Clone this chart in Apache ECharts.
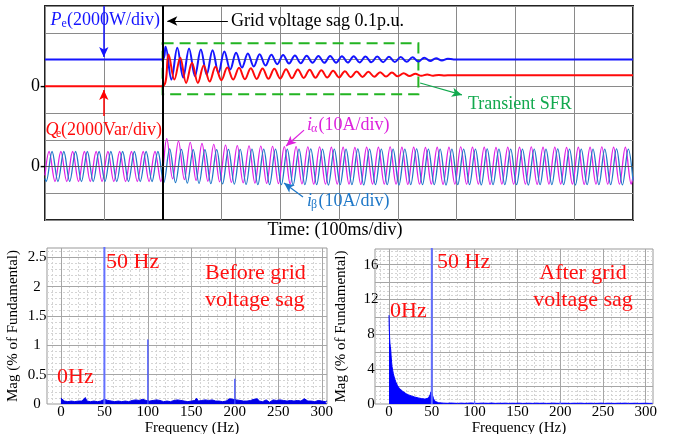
<!DOCTYPE html>
<html>
<head>
<meta charset="utf-8">
<script src="https://cdn.jsdelivr.net/npm/echarts@6.0.0/dist/echarts.min.js"></script>
<style>
  html, body { margin: 0; padding: 0; background: #fff; }
  #chart { width: 679px; height: 434px; }
</style>
</head>
<body>
<div id="chart"></div>
<script>
// ---------- scope traces (extremes read every half cycle, 50 Hz) ----------
const HALF_CYCLE = 10;   // ms between a peak and the next trough
const SAG_TIME = 200;    // ms, grid voltage sag instant

const PE_BEFORE = 2000;  // W
const PE_AFTER = 2000;
const PE_OSC_START = 205;
const PE_OSC = [
  2950, 500, 2880, 650, 2830, 750, 2750, 880, 2700, 1000,
  2600, 1250, 2500, 1400, 2450, 1480, 2400, 1550, 2350, 1650,
  2330, 1700, 2300, 1720, 2280, 1750, 2270, 1750, 2260, 1760,
  2250, 1770, 2240, 1780, 2230, 1790, 2220, 1800, 2200, 1810,
  2190, 1830, 2170, 1850, 2140, 1880, 2100, 1920, 2060
];

const QE_BEFORE = 0;     // Var
const QE_AFTER = 820;
const QE_OSC_START = 210;
const QE_OSC = [
  2380, 500, 2130, 250, 1750, 250, 1550, 350, 1450, 450,
  1400, 500, 1380, 520, 1350, 550, 1330, 560, 1300, 580,
  1280, 600, 1250, 620, 1230, 640, 1200, 650, 1150, 660,
  1120, 680, 1100, 700, 1080, 710, 1050, 720, 1020, 740,
  980, 760, 930, 780, 880, 790, 850, 810
];

// i_alpha extremes at t = 7, 17, ... 997 ms (A)
const IA_START = 7;
const IA_EDGE = [-3.3, -3.9];   // values at t = 0 and t = 1000
const IA_PEAKS = [
  5.6, -5.6, 5.6, -5.6, 5.6, -5.6, 5.6, -5.6, 5.6, -5.6,
  5.6, -5.6, 5.6, -5.6, 5.6, -5.6, 5.6, -5.6, 5.6, -5.6,
  10.4, -4.6, 9.5, -4.9, 9.0, -5.2, 8.6, -5.5, 8.3, -5.7,
  8.0, -5.9, 7.8, -6.1, 7.7, -6.2, 7.6, -6.3, 7.5, -6.4,
  7.4, -6.5, 7.4, -6.5, 7.3, -6.6, 7.3, -6.6, 7.2, -6.6,
  7.2, -6.6, 7.1, -6.7, 7.2, -6.6, 7.2, -6.6, 7.3, -6.6,
  7.2, -6.7, 7.2, -6.6, 7.1, -6.6, 7.2, -6.7, 7.2, -6.6,
  7.3, -6.6, 7.2, -6.6, 7.2, -6.7, 7.1, -6.6, 7.2, -6.6,
  7.2, -6.6, 7.3, -6.7, 7.2, -6.6, 7.2, -6.6, 7.1, -6.6,
  7.2, -6.7, 7.2, -6.6, 7.3, -6.6, 7.2, -6.6, 7.2, -6.6
];

// i_beta extremes at t = 2, 12, ... 992 ms (A)
const IB_START = 2;
const IB_EDGE = [-4.5, -5.3];
const IB_PEAKS = [
  -5.6, 5.6, -5.6, 5.6, -5.6, 5.6, -5.6, 5.6, -5.6, 5.6,
  -5.6, 5.6, -5.6, 5.6, -5.6, 5.6, -5.6, 5.6, -5.6, 5.6,
  -6.0, 6.6, -6.0, 6.4, -6.2, 6.3, -6.3, 6.3, -6.4, 6.3,
  -6.5, 6.4, -6.6, 6.4, -6.7, 6.5, -6.8, 6.5, -6.8, 6.5,
  -6.8, 6.5, -6.9, 6.5, -6.8, 6.6, -6.8, 6.5, -6.9, 6.5,
  -6.8, 6.5, -6.8, 6.6, -6.9, 6.5, -6.8, 6.5, -6.8, 6.5,
  -6.9, 6.5, -6.8, 6.6, -6.8, 6.5, -6.8, 6.5, -6.9, 6.5,
  -6.8, 6.5, -6.8, 6.5, -6.9, 6.6, -6.8, 6.5, -6.8, 6.5,
  -6.8, 6.5, -6.9, 6.5, -6.8, 6.5, -6.8, 6.6, -6.8, 6.5,
  -6.9, 6.5, -6.8, 6.5, -6.8, 6.5, -6.8, 6.6, -6.9, 6.5
];

// ---------- FFT, before sag ----------
const FREQ_TICKS = [0, 50, 100, 150, 200, 250, 300];
const BEFORE_NOISE_STEP = 2;   // Hz, starting at 0
const BEFORE_NOISE = [
  0.10, 0.07, 0.05, 0.08, 0.04, 0.06, 0.05, 0.07, 0.04, 0.06,
  0.05, 0.08, 0.05, 0.06, 0.11, 0.05, 0.07, 0.04, 0.06, 0.05,
  0.07, 0.04, 0.06, 0.05, 0.07, 0.08, 0.05, 0.06, 0.04, 0.05,
  0.07, 0.04, 0.06, 0.05, 0.08, 0.04, 0.06, 0.05, 0.07, 0.04,
  0.05, 0.06, 0.04, 0.07, 0.05, 0.06, 0.04, 0.08, 0.05, 0.06,
  0.07, 0.05, 0.04, 0.06, 0.05, 0.07, 0.04, 0.06, 0.05, 0.04,
  0.07, 0.05, 0.06, 0.04, 0.05, 0.06, 0.04, 0.07, 0.05, 0.06,
  0.04, 0.05, 0.07, 0.04, 0.06, 0.05, 0.04, 0.06, 0.10, 0.05,
  0.04, 0.06, 0.05, 0.07, 0.04, 0.06, 0.05, 0.07, 0.04, 0.05,
  0.08, 0.05, 0.06, 0.04, 0.07, 0.05, 0.06, 0.09, 0.11, 0.08,
  0.10, 0.07, 0.05, 0.06, 0.04, 0.05, 0.07, 0.05, 0.04, 0.06,
  0.05, 0.08, 0.05, 0.09, 0.05, 0.06, 0.04, 0.05, 0.07, 0.04,
  0.03, 0.05, 0.07, 0.04, 0.06, 0.05, 0.07, 0.04, 0.06, 0.08,
  0.05, 0.07, 0.06, 0.08, 0.05, 0.07, 0.06, 0.08, 0.05, 0.07,
  0.09, 0.06, 0.05, 0.07, 0.05, 0.06, 0.04, 0.05, 0.06, 0.04,
  0.05, 0.06, 0.04, 0.05
];
const BEFORE_SPIKE_FREQ = [50, 100, 200];
const BEFORE_SPIKE_MAG = [100, 1.1, 0.43];

// ---------- FFT, after sag ----------
const AFTER_FREQ = [
  0, 0.3, 0.7, 1, 1.5, 2, 2.5, 3, 3.5, 4,
  5, 6, 7, 8, 10, 12, 14, 16, 18, 20,
  23, 26, 30, 34, 38, 42, 44, 46, 47, 48,
  49, 49.6, 50.4, 51, 52, 53, 54, 56, 58
];
const AFTER_MAG = [
  10.2, 8.6, 7.6, 7.0, 6.6, 6.2, 5.4, 4.8, 4.3, 4.0,
  3.5, 3.1, 2.8, 2.5, 2.1, 1.8, 1.6, 1.45, 1.3, 1.18,
  1.04, 0.93, 0.8, 0.7, 0.62, 0.56, 0.57, 0.68, 0.82, 1.05,
  1.4, 1.6, 1.3, 0.95, 0.6, 0.42, 0.3, 0.2, 0.14
];
const AFTER_NOISE_START = 60;
const AFTER_NOISE_STEP = 4;
const AFTER_NOISE = [
  0.12, 0.10, 0.08, 0.11, 0.09, 0.07, 0.10, 0.08, 0.09, 0.12,
  0.08, 0.07, 0.10, 0.09, 0.08, 0.11, 0.07, 0.09, 0.08, 0.10,
  0.07, 0.09, 0.08, 0.10, 0.07, 0.08, 0.09, 0.07, 0.10, 0.08,
  0.09, 0.07, 0.08, 0.10, 0.08, 0.07, 0.09, 0.08, 0.07, 0.09,
  0.08, 0.10, 0.07, 0.08, 0.09, 0.07, 0.08, 0.10, 0.07, 0.09,
  0.08, 0.07, 0.09, 0.08, 0.10, 0.07, 0.08, 0.09, 0.07, 0.08,
  0.09, 0.07, 0.08
];
const AFTER_SPIKE_FREQ = [50, 100, 200];
const AFTER_SPIKE_MAG = [100, 0.35, 0.3];

// ---------- build series data ----------
function wave(t0, vals) {
  return vals.map((v, i) => [t0 + i * HALF_CYCLE, v]);
}
const peData = [[0, PE_BEFORE], [SAG_TIME, PE_BEFORE]]
  .concat(wave(PE_OSC_START, PE_OSC))
  .concat([[PE_OSC_START + PE_OSC.length * HALF_CYCLE, PE_AFTER], [1000, PE_AFTER]]);
const qeData = [[0, QE_BEFORE], [SAG_TIME, QE_BEFORE]]
  .concat(wave(QE_OSC_START, QE_OSC))
  .concat([[QE_OSC_START + QE_OSC.length * HALF_CYCLE, QE_AFTER], [1000, QE_AFTER]]);
const iaData = [[0, IA_EDGE[0]]].concat(wave(IA_START, IA_PEAKS)).concat([[1000, IA_EDGE[1]]]);
const ibData = [[0, IB_EDGE[0]]].concat(wave(IB_START, IB_PEAKS)).concat([[1000, IB_EDGE[1]]]);

const beforeData = BEFORE_NOISE.map((v, i) => [i * BEFORE_NOISE_STEP, v]);
const afterData = AFTER_FREQ.map((f, i) => [f, AFTER_MAG[i]])
  .concat(AFTER_NOISE.map((v, i) => [AFTER_NOISE_START + i * AFTER_NOISE_STEP, v]));

function spikes(freqs, mags) {
  const out = [];
  freqs.forEach((f, i) => { out.push([f, 0], [f, mags[i]], [f, '-']); });
  return out;
}

const SERIF = 'Liberation Serif';

// grid lines of the FFT plots
function fftGrid(xMajor, xMinor, yMajor, yMinor) {
  const d = [];
  xMinor.forEach(v => d.push({ xAxis: v, lineStyle: { color: '#d4d4d4', type: [2, 2], width: 1 } }));
  yMinor.forEach(v => d.push({ yAxis: v, lineStyle: { color: '#d4d4d4', type: [2, 2], width: 1 } }));
  xMajor.forEach(v => d.push({ xAxis: v, lineStyle: { color: '#a6a6a6', type: 'solid', width: 1 } }));
  yMajor.forEach(v => d.push({ yAxis: v, lineStyle: { color: '#a6a6a6', type: 'solid', width: 1 } }));
  return { silent: true, symbol: 'none', z: 1, label: { show: false }, animation: false, data: d };
}
const xMinorLines = [];
for (let f = -10; f <= 300; f += 10) if (f % 50 !== 0) xMinorLines.push(f);
const yMinorLeft = [], yMajorLeft = [];
for (let k = 1; k <= 26; k++) (k % 5 === 0 ? yMajorLeft : yMinorLeft).push(+(k * 0.1).toFixed(1));
const yMinorRight = [], yMajorRight = [];
for (let k = 1; k <= 35; k++) (k % 4 === 0 ? yMajorRight : yMinorRight).push(k * 0.5);

function txt(text, x, y, size, color, extra) {
  return {
    type: 'text', x: x, y: y, z: 100, silent: true,
    style: Object.assign({
      text: text, fontSize: size, fontFamily: SERIF, fill: color,
      align: 'left', verticalAlign: 'middle'
    }, extra || {})
  };
}

const chart = echarts.init(document.getElementById('chart'), null, { renderer: 'canvas' });

const arrowEnd = { symbol: 'arrow', symbolSize: [7, 10] };

chart.setOption({
  animation: false,
  textStyle: { fontFamily: SERIF },
  grid: [
    { left: 45, top: 6, width: 588, height: 214, show: true, borderColor: '#222', borderWidth: 2, outerBoundsMode: 'none' },
    { left: 47, top: 248, width: 280, height: 156, show: true, borderColor: '#999', borderWidth: 1, outerBoundsMode: 'none' },
    { left: 375, top: 249, width: 278, height: 155, show: true, borderColor: '#999', borderWidth: 1, outerBoundsMode: 'none' }
  ],
  xAxis: [
    {
      gridIndex: 0, type: 'value', min: 0, max: 1000, interval: 100,
      axisLine: { show: false }, axisTick: { show: false }, axisLabel: { show: false },
      splitLine: { lineStyle: { color: '#8a8a8a', width: 1 } }
    },
    {
      gridIndex: 1, type: 'value', min: -16, max: 306,
      axisLine: { show: false }, axisTick: { show: false, customValues: FREQ_TICKS }, splitLine: { show: false },
      axisLabel: { customValues: FREQ_TICKS, fontSize: 15, color: '#000', margin: 1, fontFamily: SERIF },
      name: 'Frequency (Hz)', nameLocation: 'middle', nameGap: 9,
      nameTextStyle: { fontSize: 15, color: '#000', fontFamily: SERIF, padding: [0, 0, 0, 10] }
    },
    {
      gridIndex: 2, type: 'value', min: -16.4, max: 308.5,
      axisLine: { show: false }, axisTick: { show: false, customValues: FREQ_TICKS }, splitLine: { show: false },
      axisLabel: { customValues: FREQ_TICKS, fontSize: 15, color: '#000', margin: 1, fontFamily: SERIF },
      name: 'Frequency (Hz)', nameLocation: 'middle', nameGap: 9,
      nameTextStyle: { fontSize: 15, color: '#000', fontFamily: SERIF, padding: [0, 0, 0, 10] }
    }
  ],
  yAxis: [
    {
      gridIndex: 0, type: 'value', position: 'left', min: -10000, max: 6000, interval: 2000,
      axisLine: { show: false }, axisTick: { show: false },
      axisLabel: { formatter: v => (v === 0 ? '0-' : ''), fontSize: 18, color: '#000', margin: -1, fontFamily: SERIF },
      splitLine: { lineStyle: { color: '#8a8a8a', width: 1 } }
    },
    {
      gridIndex: 0, type: 'value', position: 'left', offset: 0, min: -20, max: 60, interval: 10,
      axisLine: { show: false }, axisTick: { show: false }, splitLine: { show: false },
      axisLabel: { formatter: v => (v === 0 ? '0-' : ''), fontSize: 18, color: '#000', margin: -1, fontFamily: SERIF }
    },
    {
      gridIndex: 1, type: 'value', min: 0, max: 2.66, interval: 0.5,
      axisLine: { show: false }, axisTick: { show: false }, splitLine: { show: false },
      axisLabel: { fontSize: 15, color: '#000', margin: 10, align: 'center', showMaxLabel: false, fontFamily: SERIF },
      name: 'Mag (% of Fundamental)', nameLocation: 'middle', nameGap: 26,
      nameTextStyle: { fontSize: 15, color: '#000', fontFamily: SERIF }
    },
    {
      gridIndex: 2, type: 'value', min: 0, max: 17.8, interval: 4,
      axisLine: { show: false }, axisTick: { show: false }, splitLine: { show: false },
      axisLabel: { fontSize: 15, color: '#000', margin: 4, align: 'center', showMaxLabel: false, fontFamily: SERIF },
      name: 'Mag (% of Fundamental)', nameLocation: 'middle', nameGap: 26,
      nameTextStyle: { fontSize: 15, color: '#000', fontFamily: SERIF }
    }
  ],
  series: [
    {
      name: 'Pe', type: 'line', xAxisIndex: 0, yAxisIndex: 0, data: peData,
      smooth: 0.36, showSymbol: false, symbol: 'none', z: 3,
      lineStyle: { color: '#1414ff', width: 2 },
      markArea: {
        silent: true,
        itemStyle: { color: 'rgba(0,0,0,0)', borderColor: '#22b422', borderWidth: 2, borderType: [11, 6] },
        data: [[{ coord: [SAG_TIME, 3211] }, { coord: [635, -602] }]]
      },
      markLine: {
        silent: true, symbol: ['none', 'none'], label: { show: false }, z: 6,
        data: [
          [{ coord: [100, 6000], lineStyle: { color: '#1414ff', width: 1.5, type: 'solid' } }, Object.assign({ coord: [100, 2187] }, arrowEnd)],
          [{ coord: [100, -2225], lineStyle: { color: '#ff0000', width: 1.5, type: 'solid' } }, Object.assign({ coord: [100, -280] }, arrowEnd)],
          [{ coord: [311, 4879], lineStyle: { color: '#000', width: 1.2, type: 'solid' } }, Object.assign({ coord: [208, 4879] }, arrowEnd)],
          [{ coord: [638, 243], lineStyle: { color: '#12a94e', width: 1.3, type: 'solid' } }, Object.assign({ coord: [709, -654] }, arrowEnd)]
        ]
      }
    },
    {
      name: 'Qe', type: 'line', xAxisIndex: 0, yAxisIndex: 0, data: qeData,
      smooth: 0.36, showSymbol: false, symbol: 'none', z: 4,
      lineStyle: { color: '#ff0a0a', width: 2 }
    },
    {
      name: 'i_alpha', type: 'line', xAxisIndex: 0, yAxisIndex: 1, data: iaData,
      smooth: 0.36, showSymbol: false, symbol: 'none', z: 3,
      lineStyle: { color: '#e020e6', width: 1.3 },
      markLine: {
        silent: true, symbol: ['none', 'none'], label: { show: false }, z: 6,
        data: [
          { xAxis: SAG_TIME, lineStyle: { color: '#000', width: 2, type: 'solid' } },
          { yAxis: 0, lineStyle: { color: '#555', width: 1, type: 'solid' } },
          [{ coord: [440.5, 13.6], lineStyle: { color: '#dd22dd', width: 1.3, type: 'solid' } }, Object.assign({ coord: [410, 7.7] }, arrowEnd)],
          [{ coord: [438.8, -11.4], lineStyle: { color: '#1f78c8', width: 1.3, type: 'solid' } }, Object.assign({ coord: [406.5, -6.2] }, arrowEnd)]
        ]
      }
    },
    {
      name: 'i_beta', type: 'line', xAxisIndex: 0, yAxisIndex: 1, data: ibData,
      smooth: 0.36, showSymbol: false, symbol: 'none', z: 4,
      lineStyle: { color: '#1f78c8', width: 1.3 }
    },
    // ---- FFT before sag ----
    {
      name: 'before', type: 'line', xAxisIndex: 1, yAxisIndex: 2, data: beforeData,
      showSymbol: false, symbol: 'none', z: 3,
      lineStyle: { color: '#0000e6', width: 1 },
      areaStyle: { color: '#0000e6', opacity: 1 },
      markLine: fftGrid(FREQ_TICKS, xMinorLines, yMajorLeft, yMinorLeft)
    },
    {
      name: 'before fundamental', type: 'line', xAxisIndex: 1, yAxisIndex: 2,
      data: spikes(BEFORE_SPIKE_FREQ.slice(0, 1), BEFORE_SPIKE_MAG.slice(0, 1)),
      showSymbol: false, symbol: 'none', z: 4, connectNulls: false,
      lineStyle: { color: '#6470ff', width: 2 }
    },
    {
      name: 'before harmonics', type: 'line', xAxisIndex: 1, yAxisIndex: 2,
      data: spikes(BEFORE_SPIKE_FREQ.slice(1), BEFORE_SPIKE_MAG.slice(1)),
      showSymbol: false, symbol: 'none', z: 4, connectNulls: false,
      lineStyle: { color: '#4050ff', width: 1.3 }
    },
    // ---- FFT after sag ----
    {
      name: 'after', type: 'line', xAxisIndex: 2, yAxisIndex: 3, data: afterData,
      showSymbol: false, symbol: 'none', z: 3,
      lineStyle: { color: '#0000ff', width: 1 },
      areaStyle: { color: '#0000ff', opacity: 1 },
      markLine: fftGrid(FREQ_TICKS, xMinorLines, yMajorRight, yMinorRight)
    },
    {
      name: 'after fundamental', type: 'line', xAxisIndex: 2, yAxisIndex: 3,
      data: spikes(AFTER_SPIKE_FREQ.slice(0, 1), AFTER_SPIKE_MAG.slice(0, 1)),
      showSymbol: false, symbol: 'none', z: 4, connectNulls: false,
      lineStyle: { color: '#6470ff', width: 2 }
    },
    {
      name: 'after harmonics', type: 'line', xAxisIndex: 2, yAxisIndex: 3,
      data: spikes(AFTER_SPIKE_FREQ.slice(1), AFTER_SPIKE_MAG.slice(1)),
      showSymbol: false, symbol: 'none', z: 4, connectNulls: false,
      lineStyle: { color: '#6470ff', width: 1.2 }
    }
  ],
  graphic: [
    // scope annotations
    txt('P', 50.5, 20, 18, '#1414ff', { fontStyle: 'italic' }),
    txt('e', 61.5, 24, 12, '#1414ff'),
    txt('(2000W/div)', 67, 20, 18, '#1414ff'),
    txt('Grid voltage sag 0.1p.u.', 231, 21, 18, '#000'),
    txt('Q', 45.5, 130, 18, '#ff0a0a', { fontStyle: 'italic' }),
    txt('e', 56, 134, 12, '#ff0a0a'),
    txt('(2000Var/div)', 61, 130, 18, '#ff0a0a'),
    txt('i', 307, 125, 18, '#dd22dd', { fontStyle: 'italic' }),
    txt('\u03b1', 311, 129, 12, '#dd22dd'),
    txt('(10A/div)', 318.5, 125, 18, '#dd22dd'),
    txt('i', 307, 201, 18, '#1f78c8', { fontStyle: 'italic' }),
    txt('\u03b2', 311, 205, 12, '#1f78c8'),
    txt('(10A/div)', 318.5, 201, 18, '#1f78c8'),
    txt('Transient SFR', 468, 104, 18, '#12a94e'),
    txt('Time: (100ms/div)', 335, 230, 18, '#000', { align: 'center' }),
    // FFT annotations
    txt('50 Hz', 106, 262, 22, '#ff1010'),
    txt('0Hz', 57, 377, 22, '#ff1010'),
    txt('Before grid', 205, 273, 22, '#ff1010'),
    txt('voltage sag', 205, 300, 22, '#ff1010'),
    txt('50 Hz', 437, 262, 22, '#ff1010'),
    txt('0Hz', 390, 311, 22, '#ff1010'),
    txt('After grid', 583, 273, 22, '#ff1010', { align: 'center' }),
    txt('voltage sag', 583, 300, 22, '#ff1010', { align: 'center' })
  ]
});
</script>
</body>
</html>
